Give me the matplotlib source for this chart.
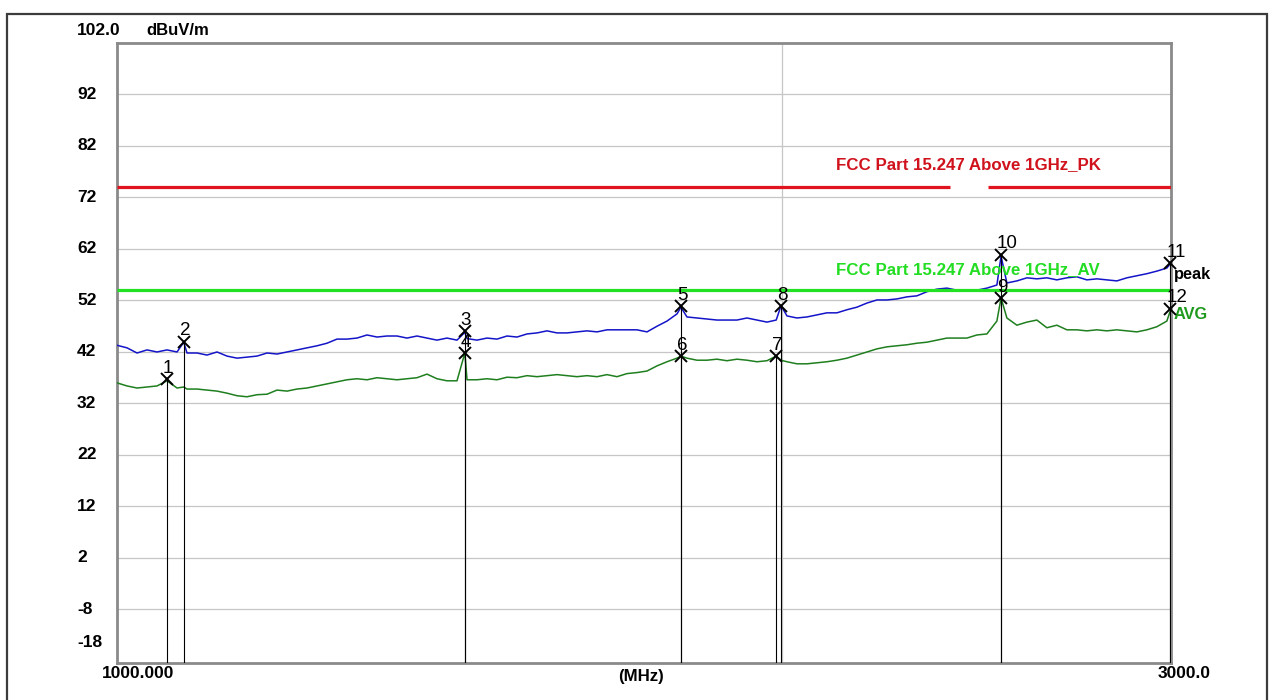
import matplotlib
matplotlib.use('Agg')
import matplotlib.pyplot as plt
import matplotlib.transforms as mtransforms
from matplotlib.patches import Rectangle
from matplotlib.ticker import NullLocator

# ---------------- data ----------------
freq_mhz = [1000, 1010.5, 1021.1, 1031.8, 1042.6, 1053.5, 1064.6, 1072, 1075.7, 1087.0,
            1098.4, 1109.9, 1121.5, 1133.3, 1145.1, 1157.1, 1169.3, 1181.5, 1193.9, 1206.4,
            1219.0, 1231.8, 1244.7, 1257.7, 1270.9, 1284.2, 1297.7, 1311.3, 1325.0, 1338.9,
            1352.9, 1367.1, 1381.4, 1395.9, 1410.5, 1425.3, 1437, 1440.3, 1455.3, 1470.6,
            1486.0, 1501.6, 1517.3, 1533.2, 1549.3, 1565.5, 1581.9, 1598.5, 1615.2, 1632.2,
            1649.3, 1666.5, 1684.0, 1701.6, 1719.5, 1737.5, 1755.7, 1774.1, 1792.7, 1800,
            1811.4, 1830.4, 1849.6, 1868.9, 1888.5, 1908.3, 1928.3, 1948.5, 1968.9, 1988,
            1998, 2010.4, 2031.4, 2052.7, 2074.2, 2095.9, 2117.9, 2140.1, 2162.5, 2185.2,
            2208.0, 2231.2, 2254.5, 2278.2, 2302.0, 2326.1, 2350.5, 2375.1, 2400.0, 2425.1,
            2450.5, 2476.2, 2502.1, 2513, 2528.3, 2554.8, 2581.6, 2608.6, 2635.9, 2663.5,
            2691.5, 2719.6, 2748.1, 2776.9, 2806.0, 2835.4, 2865.1, 2895.1, 2925.4, 2956.1,
            2987.0, 3000]

peak_dbuv = [43.3, 42.8, 41.8, 42.4, 42.0, 42.4, 42.0, 43.9, 41.8, 41.8,
             41.4, 42.0, 41.2, 40.8, 41.0, 41.2, 41.8, 41.6, 42.0, 42.4,
             42.8, 43.2, 43.7, 44.5, 44.5, 44.7, 45.3, 44.9, 45.1, 45.1,
             44.7, 45.1, 44.7, 44.3, 44.7, 44.3, 45.8, 44.6, 44.3, 44.7,
             44.5, 45.1, 44.9, 45.5, 45.7, 46.1, 45.7, 45.7, 45.9, 46.1,
             45.9, 46.3, 46.3, 46.3, 46.3, 45.9, 47.0, 48.0, 49.4, 50.7,
             48.8, 48.6, 48.4, 48.2, 48.2, 48.2, 48.6, 48.2, 47.8, 48.2,
             51.0, 49.0, 48.6, 48.8, 49.2, 49.6, 49.6, 50.2, 50.7, 51.5,
             52.1, 52.1, 52.3, 52.7, 52.9, 53.7, 54.2, 54.4, 54.0, 54.0,
             54.0, 54.4, 55.0, 60.6, 55.4, 55.8, 56.4, 56.2, 56.4, 56.0,
             56.4, 56.6, 56.0, 56.2, 56.0, 55.8, 56.4, 56.8, 57.2, 57.7,
             58.3, 59.3]

avg_dbuv = [36.0, 35.4, 35.0, 35.2, 35.4, 36.4, 35.0, 35.2, 34.8, 34.8,
            34.6, 34.4, 34.0, 33.5, 33.3, 33.7, 33.8, 34.6, 34.4, 34.8,
            35.0, 35.4, 35.8, 36.2, 36.6, 36.8, 36.6, 37.0, 36.8, 36.6,
            36.8, 37.0, 37.7, 36.8, 36.4, 36.4, 41.8, 36.6, 36.6, 36.8,
            36.6, 37.1, 37.0, 37.4, 37.2, 37.4, 37.6, 37.4, 37.2, 37.4,
            37.2, 37.6, 37.2, 37.8, 38.0, 38.3, 39.3, 40.1, 40.8, 41.2,
            40.8, 40.4, 40.4, 40.6, 40.3, 40.6, 40.4, 40.1, 40.3, 41.2,
            40.4, 40.1, 39.7, 39.7, 39.9, 40.1, 40.4, 40.8, 41.4, 42.0,
            42.6, 43.0, 43.2, 43.4, 43.7, 43.9, 44.3, 44.7, 44.7, 44.7,
            45.3, 45.5, 48.0, 52.5, 48.6, 47.2, 47.8, 48.2, 46.7, 47.2,
            46.3, 46.3, 46.1, 46.3, 46.1, 46.3, 46.1, 45.9, 46.3, 46.9,
            48.0, 50.4]

marker_labels = ['1', '2', '3', '4', '5', '6', '7', '8', '9', '10', '11', '12']
marker_freq = [1053.5, 1072, 1437, 1437, 1800, 1800, 1988, 1998, 2513, 2513, 2998, 2998]
marker_level = [36.7, 44.0, 46.0, 41.8, 50.9, 41.2, 41.2, 50.9, 52.5, 60.9, 59.3, 50.4]

pk_limit = 74.0
av_limit = 54.0
pk_limit_segments = [(1000, 2383), (2479, 3000)]
pk_limit_text = 'FCC Part 15.247 Above 1GHz_PK'
av_limit_text = 'FCC Part 15.247 Above 1GHz_AV'
limit_text_freq = 2116

y_grid = [92, 82, 72, 62, 52, 42, 32, 22, 12, 2, -8]
y_min, y_max = -18.4, 102.0
x_min, x_max = 1000, 3000

# ---------------- figure ----------------
W, H = 1283, 700
FONT = ['Liberation Sans', 'DejaVu Sans']
fig = plt.figure(figsize=(W / 100, H / 100), dpi=100)
fig.patch.set_facecolor('white')
ax = fig.add_axes([117 / W, 1 - 663 / H, (1171 - 117) / W, (663 - 43) / H])
ax.set_xscale('log')
ax.set_xlim(x_min, x_max)
ax.set_ylim(y_min, y_max)
ax.xaxis.set_major_locator(NullLocator())
ax.xaxis.set_minor_locator(NullLocator())
ax.yaxis.set_major_locator(NullLocator())
ax.yaxis.set_minor_locator(NullLocator())
for s in ax.spines.values():
    s.set_color('#8a8a8a')
    s.set_linewidth(2.0)

# grid
for g in y_grid:
    ax.axhline(g, color='#c6c6c6', lw=0.9, zorder=1)
ax.axvline(2000, color='#c6c6c6', lw=0.9, zorder=1)

# traces
ax.plot(freq_mhz, avg_dbuv, color='#1f7f1f', lw=1.1, zorder=3)
ax.plot(freq_mhz, peak_dbuv, color='#1414c8', lw=1.1, zorder=3)

# limit lines
for a, b in pk_limit_segments:
    ax.plot([a, b], [pk_limit, pk_limit], color='#e0141e', lw=2.3, zorder=4, solid_capstyle='butt')
ax.plot([x_min, x_max], [av_limit, av_limit], color='#22e022', lw=2.3, zorder=4, solid_capstyle='butt')

# markers
for lab, f, v in zip(marker_labels, marker_freq, marker_level):
    ax.vlines(f, y_min, v, color='black', lw=0.8, zorder=5)
    ax.plot([f], [v], marker='x', ms=8, mew=1.4, color='black', zorder=6, clip_on=False)
    ax.annotate(lab, (f, v), xytext=(-3, 4.5), textcoords='offset points',
                ha='left', va='baseline', fontsize=13.5, family=FONT,
                color='black', zorder=5, annotation_clip=False)

# limit labels
ax.text(limit_text_freq, 78.4, pk_limit_text, color='#d0121c', fontsize=12.2,
        fontweight='bold', family=FONT, ha='left', va='center', zorder=7)
ax.text(limit_text_freq, 58.0, av_limit_text, color='#22dd22', fontsize=12.2,
        fontweight='bold', family=FONT, ha='left', va='center', zorder=7)

# trace labels outside the plot
ytr = mtransforms.blended_transform_factory(ax.transAxes, ax.transData)
ax.text(1.0027, 57.0, 'peak', transform=ytr, color='black', fontsize=11.8,
        fontweight='bold', family=FONT, ha='left', va='center', clip_on=False)
ax.text(1.0027, 49.3, 'AVG', transform=ytr, color='#1f9a1f', fontsize=11.8,
        fontweight='bold', family=FONT, ha='left', va='center', clip_on=False)

# y labels
xl = (77 - 117) / 1054
for g in y_grid:
    ax.text(xl, g, str(g), transform=ytr, fontsize=12.5, fontweight='bold', family=FONT,
            ha='left', va='center', clip_on=False)
ax.text(xl, 104.5, '102.0', transform=ytr, fontsize=12.5, fontweight='bold', family=FONT,
        ha='left', va='center', clip_on=False)
ax.text(xl, -14.5, '-18', transform=ytr, fontsize=12.5, fontweight='bold', family=FONT,
        ha='left', va='center', clip_on=False)
ax.text((146 - 117) / 1054, 104.5, 'dBuV/m', transform=ytr, fontsize=12.0, fontweight='bold',
        family=FONT, ha='left', va='center', clip_on=False)

# x labels
ax.text((138 - 117) / 1054, -0.017, '1000.000', transform=ax.transAxes, fontsize=12.5,
        fontweight='bold', family=FONT, ha='center', va='center', clip_on=False)
ax.text((641 - 117) / 1054, -0.021, '(MHz)', transform=ax.transAxes, fontsize=12.2,
        fontweight='bold', family=FONT, ha='center', va='center', clip_on=False)
ax.text((1184 - 117) / 1054, -0.017, '3000.0', transform=ax.transAxes, fontsize=12.5,
        fontweight='bold', family=FONT, ha='center', va='center', clip_on=False)

# outer frame
fig.add_artist(Rectangle((7 / W, -0.02), (1267 - 7) / W, 1 - 14 / H + 0.02,
                         transform=fig.transFigure, fill=False, edgecolor='#3c3c3c', lw=1.6))

fig.savefig('out.png', dpi=100, facecolor='white')
